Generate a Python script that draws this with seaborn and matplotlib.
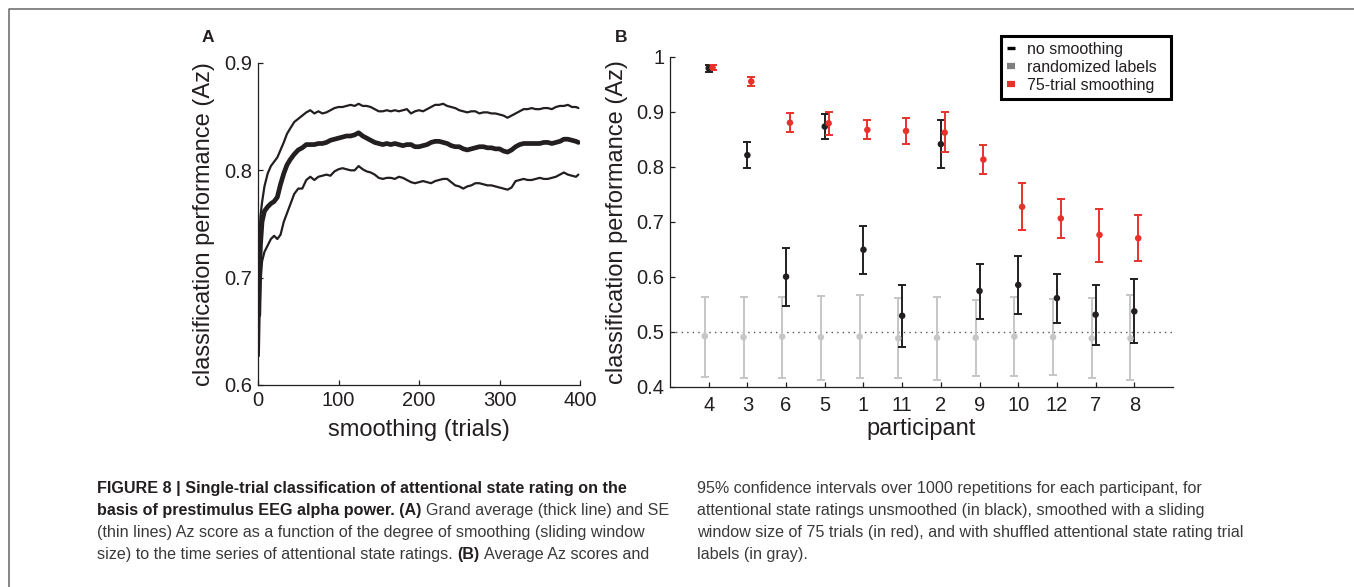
import matplotlib
matplotlib.use("Agg")
import matplotlib.pyplot as plt
from matplotlib.lines import Line2D
from matplotlib import font_manager
import pandas as pd
import seaborn as sns

# ---- panel A: Az vs smoothing window ----
trials = [1, 2, 3, 5, 8, 12, 16, 20, 24, 28] + list(range(32, 41, 4)) + [45] + list(range(50, 400, 5)) + [398]

az_upper = [0.700, 0.738, 0.757, 0.770, 0.785, 0.797, 0.804, 0.808, 0.812, 0.819,
            0.826, 0.834, 0.839, 0.845, 0.848, 0.851, 0.854, 0.856, 0.853, 0.855,
            0.853, 0.854, 0.856, 0.858, 0.859, 0.859, 0.860, 0.861, 0.860, 0.862,
            0.860, 0.860, 0.859, 0.857, 0.855, 0.855, 0.856, 0.855, 0.856, 0.855,
            0.856, 0.857, 0.853, 0.855, 0.856, 0.855, 0.857, 0.859, 0.861, 0.861,
            0.862, 0.860, 0.859, 0.858, 0.856, 0.855, 0.854, 0.855, 0.855, 0.853,
            0.854, 0.854, 0.853, 0.853, 0.852, 0.851, 0.849, 0.851, 0.853, 0.855,
            0.857, 0.857, 0.858, 0.857, 0.857, 0.858, 0.858, 0.857, 0.859, 0.860,
            0.860, 0.861, 0.859, 0.859, 0.858]

az_mean = [0.665, 0.705, 0.730, 0.752, 0.762, 0.766, 0.769, 0.771, 0.775, 0.787,
           0.797, 0.805, 0.810, 0.815, 0.819, 0.821, 0.824, 0.824, 0.824, 0.825,
           0.825, 0.826, 0.828, 0.829, 0.830, 0.831, 0.832, 0.832, 0.833, 0.835,
           0.832, 0.830, 0.828, 0.826, 0.825, 0.824, 0.825, 0.824, 0.825, 0.824,
           0.823, 0.824, 0.824, 0.822, 0.822, 0.823, 0.824, 0.826, 0.827, 0.827,
           0.826, 0.825, 0.823, 0.822, 0.822, 0.820, 0.819, 0.820, 0.821, 0.822,
           0.822, 0.821, 0.821, 0.820, 0.820, 0.818, 0.817, 0.819, 0.822, 0.824,
           0.825, 0.825, 0.825, 0.825, 0.825, 0.826, 0.826, 0.825, 0.826, 0.827,
           0.829, 0.829, 0.828, 0.827, 0.826]

az_lower = [0.627, 0.668, 0.695, 0.715, 0.724, 0.730, 0.736, 0.739, 0.736, 0.740,
            0.752, 0.760, 0.768, 0.778, 0.783, 0.783, 0.791, 0.794, 0.791, 0.794,
            0.795, 0.796, 0.795, 0.799, 0.801, 0.802, 0.801, 0.800, 0.800, 0.804,
            0.801, 0.799, 0.798, 0.796, 0.793, 0.792, 0.793, 0.793, 0.792, 0.794,
            0.793, 0.791, 0.789, 0.788, 0.789, 0.790, 0.789, 0.788, 0.790, 0.791,
            0.792, 0.792, 0.789, 0.786, 0.785, 0.783, 0.785, 0.786, 0.788, 0.788,
            0.787, 0.786, 0.786, 0.785, 0.784, 0.783, 0.782, 0.784, 0.790, 0.791,
            0.792, 0.791, 0.791, 0.792, 0.793, 0.792, 0.792, 0.793, 0.794, 0.796,
            0.798, 0.796, 0.795, 0.794, 0.796]

# ---- panel B: per participant Az with 95% CI ----
participants = ["4", "3", "6", "5", "1", "11", "2", "9", "10", "12", "7", "8"]

nosmooth_mean = [0.979, 0.821, 0.600, 0.873, 0.649, 0.529, 0.841, 0.574, 0.585, 0.561, 0.531, 0.537]
nosmooth_lo = [0.973, 0.797, 0.547, 0.850, 0.605, 0.473, 0.798, 0.524, 0.532, 0.515, 0.476, 0.480]
nosmooth_hi = [0.984, 0.845, 0.652, 0.895, 0.693, 0.585, 0.885, 0.624, 0.638, 0.605, 0.585, 0.595]

smooth75_mean = [0.980, 0.955, 0.880, 0.879, 0.867, 0.865, 0.862, 0.813, 0.727, 0.706, 0.676, 0.670]
smooth75_lo = [0.975, 0.947, 0.863, 0.858, 0.850, 0.841, 0.827, 0.786, 0.685, 0.670, 0.627, 0.628]
smooth75_hi = [0.984, 0.964, 0.897, 0.900, 0.884, 0.888, 0.899, 0.839, 0.770, 0.741, 0.724, 0.712]

random_mean = [0.492, 0.490, 0.491, 0.490, 0.491, 0.488, 0.489, 0.489, 0.491, 0.490, 0.488, 0.488]
random_lo = [0.418, 0.415, 0.416, 0.413, 0.415, 0.415, 0.413, 0.419, 0.419, 0.421, 0.416, 0.412]
random_hi = [0.564, 0.564, 0.564, 0.565, 0.566, 0.561, 0.564, 0.558, 0.563, 0.560, 0.561, 0.566]

caption_left = [
    [("FIGURE 8 | Single-trial classification of attentional state rating on the", True)],
    [("basis of prestimulus EEG alpha power. (A)", True), ("Grand average (thick line) and SE", False)],
    [("(thin lines) Az score as a function of the degree of smoothing (sliding window", False)],
    [("size) to the time series of attentional state ratings.", False), ("(B)", True),
     ("Average Az scores and", False)],
]
caption_right = [
    [("95% confidence intervals over 1000 repetitions for each participant, for", False)],
    [("attentional state ratings unsmoothed (in black), smoothed with a sliding", False)],
    [("window size of 75 trials (in red), and with shuffled attentional state rating trial", False)],
    [("labels (in gray).", False)],
]

INK = "#231f20"
RED = "#e8312b"
LIGHT = "#c6c6c6"
MID = "#7f7f7f"

sns.set_style("ticks")
plt.rcParams["font.family"] = ["Liberation Sans", "DejaVu Sans"]
names = {f.name for f in font_manager.fontManager.ttflist}
cap_family = "Liberation Sans Narrow" if "Liberation Sans Narrow" in names else "Liberation Sans"

W, H = 1354, 587
fig = plt.figure(figsize=(W / 100, H / 100), dpi=100)


def px_axes(x0, y0, x1, y1):
    return fig.add_axes([x0 / W, 1 - y1 / H, (x1 - x0) / W, (y1 - y0) / H])


def style_axes(ax):
    sns.despine(ax=ax)
    for s in ("left", "bottom"):
        ax.spines[s].set_color(INK)
        ax.spines[s].set_linewidth(0.9)
    ax.tick_params(direction="in", length=3.5, width=0.9, colors=INK,
                   labelsize=14.5, labelcolor=INK)


# ---- A ----
axA = px_axes(258, 63, 580, 385)
sns.lineplot(x=trials, y=az_upper, ax=axA, color=INK, linewidth=1.6)
sns.lineplot(x=trials, y=az_lower, ax=axA, color=INK, linewidth=1.6)
sns.lineplot(x=trials, y=az_mean, ax=axA, color=INK, linewidth=3.4)
axA.set_xlim(0, 400)
axA.set_ylim(0.6, 0.9)
axA.set_xticks([0, 100, 200, 300, 400])
axA.set_yticks([0.6, 0.7, 0.8, 0.9])
axA.set_yticklabels(["0.6", "0.7", "0.8", "0.9"])
style_axes(axA)
axA.tick_params(axis="x", pad=4)
axA.tick_params(axis="y", pad=4)
axA.set_xlabel("smoothing (trials)", fontsize=17, color=INK)
axA.set_ylabel("classification performance (Az)", fontsize=17, color=INK)
axA.xaxis.set_label_coords(0.5, -0.105)
axA.yaxis.set_label_coords(-0.134, 0.5)

# ---- B ----
axB = px_axes(670, 56.7, 1173, 386.7)
xpos = list(range(len(participants)))
axB.axhline(0.5, ls=(0, (1, 3)), color="#555555", lw=1.0, zorder=1)

conds = [
    ("randomized labels", random_mean, random_lo, random_hi, LIGHT, -0.1),
    ("no smoothing", nosmooth_mean, nosmooth_lo, nosmooth_hi, INK, 0.0),
    ("75-trial smoothing", smooth75_mean, smooth75_lo, smooth75_hi, RED, 0.1),
]
for name, m, lo, hi, col, off in conds:
    df = pd.DataFrame({"x": [p + off for p in xpos], "az": m, "lo": lo, "hi": hi})
    axB.errorbar(df["x"], df["az"], yerr=[df["az"] - df["lo"], df["hi"] - df["az"]],
                 fmt="none", ecolor=col, elinewidth=1.4, capsize=3, capthick=1.4, zorder=2)
    sns.scatterplot(data=df, x="x", y="az", ax=axB, color=col, s=22,
                    edgecolor="none", legend=False, zorder=3)

axB.set_xlim(-1, 12)
axB.set_ylim(0.4, 1.0)
axB.set_xticks(xpos)
axB.set_xticklabels(participants)
axB.set_yticks([0.4, 0.5, 0.6, 0.7, 0.8, 0.9, 1.0])
axB.set_yticklabels(["0.4", "0.5", "0.6", "0.7", "0.8", "0.9", "1"])
style_axes(axB)
axB.tick_params(axis="x", pad=7)
axB.tick_params(axis="y", pad=4)
axB.set_xlabel("participant", fontsize=17, color=INK)
axB.set_ylabel("classification performance (Az)", fontsize=17, color=INK)
axB.xaxis.set_label_coords(0.5, -0.095)
axB.yaxis.set_label_coords(-0.0835, 0.5)

handles = [Line2D([], [], color="black", lw=2.4, solid_capstyle="butt"),
           Line2D([], [], color=MID, lw=4.5, solid_capstyle="butt"),
           Line2D([], [], color=RED, lw=4.5, solid_capstyle="butt")]
leg = axB.legend(handles, ["no smoothing", "randomized labels", "75-trial smoothing"],
                 loc="upper left", mode="expand",
                 bbox_to_anchor=(1001 / W, 1 - 96 / H, 170 / W, 60 / H),
                 bbox_transform=fig.transFigure, fontsize=11.5, frameon=True,
                 fancybox=False, framealpha=1, edgecolor="black",
                 handlelength=0.55, handletextpad=0.7, labelspacing=0.2,
                 borderpad=0.35, borderaxespad=0)
leg.get_frame().set_linewidth(2.2)
for t in leg.get_texts():
    t.set_color(INK)

# panel letters
fig.text(208 / W, 1 - 38 / H, "A", fontsize=12.5, fontweight="bold", color=INK,
         ha="center", va="center")
fig.text(621 / W, 1 - 38 / H, "B", fontsize=12.5, fontweight="bold", color=INK,
         ha="center", va="center")

# page frame (top and left rule)
fig.add_artist(Line2D([9 / W, 9 / W, 1], [0, 1 - 9 / H, 1 - 9 / H],
                      transform=fig.transFigure, color="#666666", lw=1.1))

# ---- caption ----
renderer = fig.canvas.get_renderer()


def text_width(s, size, bold):
    t = fig.text(0, 0, s, fontsize=size, family=cap_family,
                 fontweight="bold" if bold else "normal")
    w = t.get_window_extent(renderer).width
    t.remove()
    return w


# fit both columns into their widths in the reference
size_right = 10 * 625 / text_width(caption_right[2][0][0], 10, False)
size_left = 10 * 528 / text_width(caption_left[0][0][0], 10, True)
cap_size = min(size_right, size_left)
space_w = text_width("a a", cap_size, False) - text_width("aa", cap_size, False)


def draw_caption(lines, x0, ys):
    for segs, y in zip(lines, ys):
        x = x0
        for s, bold in segs:
            t = fig.text(x / W, 1 - y / H, s, fontsize=cap_size, family=cap_family,
                         fontweight="bold" if bold else "normal",
                         color=INK if bold else "#3a3a3a", va="center", ha="left")
            x += t.get_window_extent(renderer).width + space_w


draw_caption(caption_left, 97, [488, 510, 532, 555])
draw_caption(caption_right, 697, [488, 510, 532, 555])

fig.savefig("out.png", dpi=100)
